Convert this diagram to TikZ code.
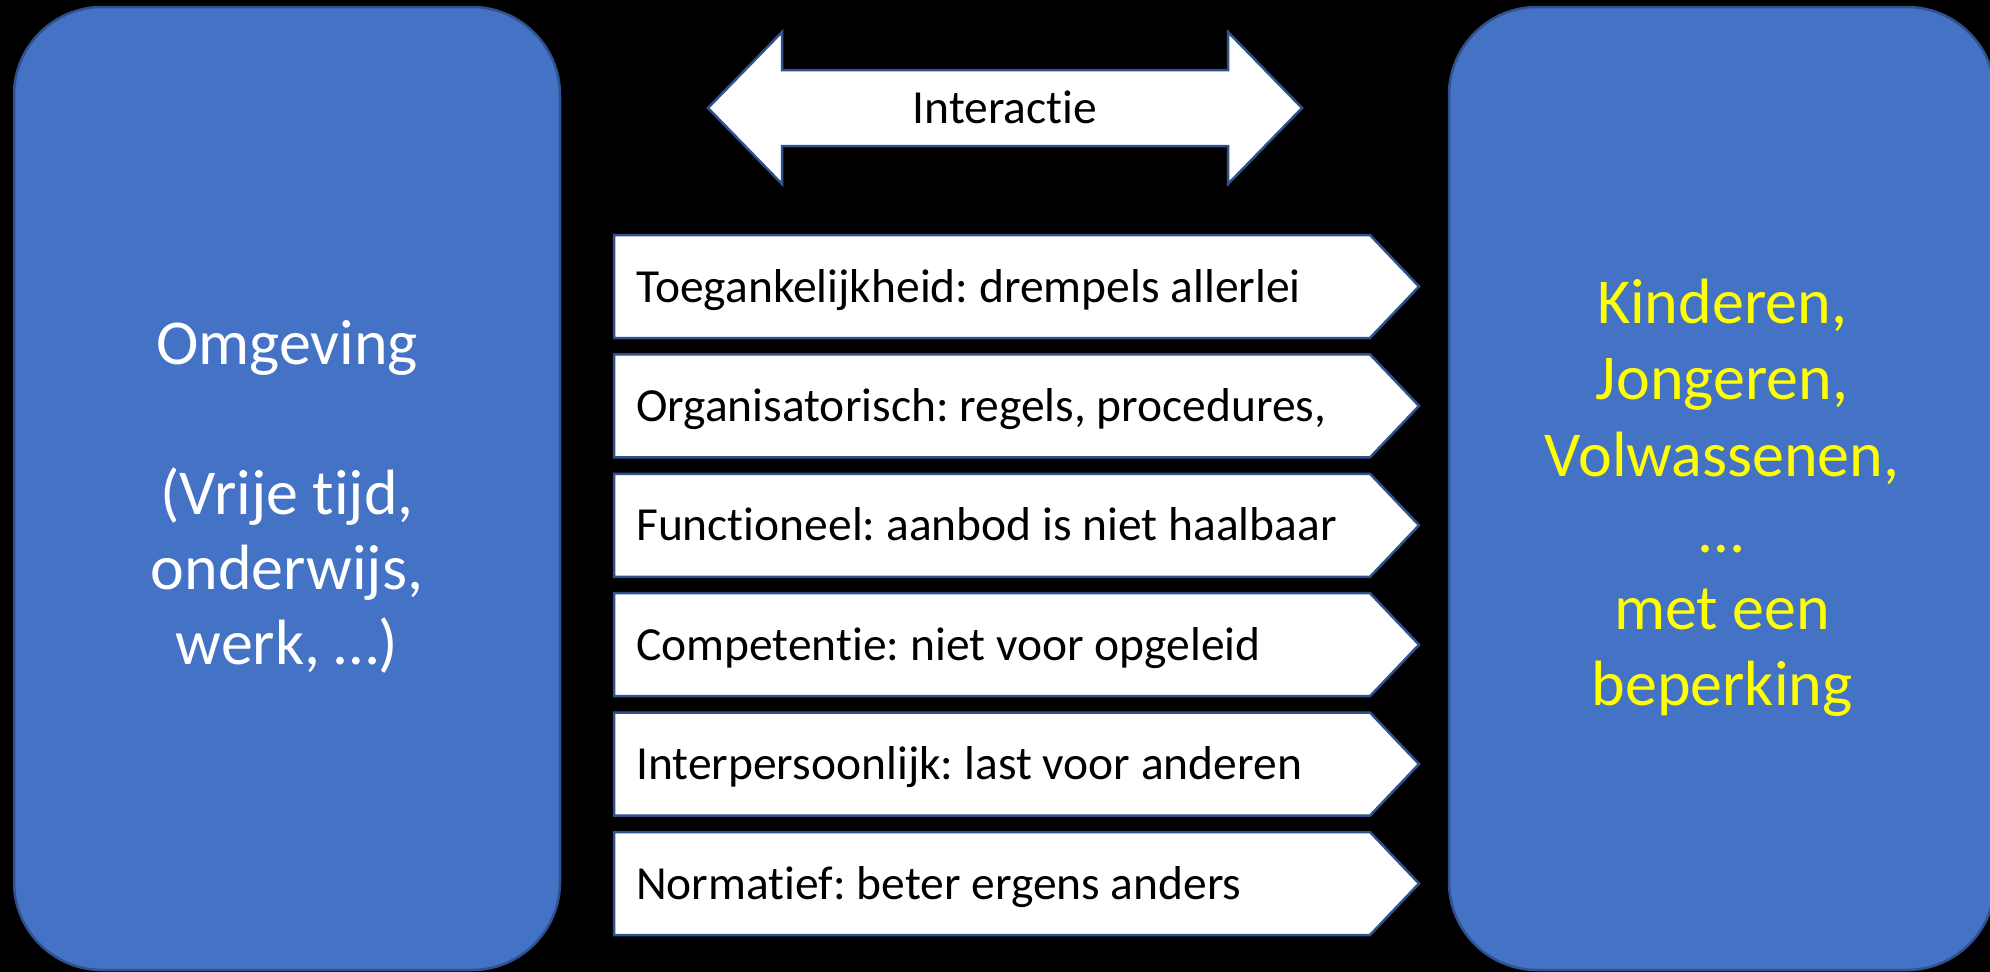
\documentclass[tikz,border=0pt]{standalone}
\usepackage{fontspec}
\setmainfont{Carlito}[Ligatures=NoCommon]
\frenchspacing
\usetikzlibrary{shapes, arrows, positioning}
\definecolor{kaderblauw}{HTML}{4472C4}
\definecolor{randblauw}{HTML}{2F528F}
\definecolor{geel}{HTML}{FFFF00}
\tikzstyle{kader} = [draw=randblauw, fill=kaderblauw, line width=2.5pt, rectangle, rounded corners=88pt, minimum width=546pt, minimum height=963pt, inner sep=0pt]
\tikzstyle{kadertekst} = [align=center, inner sep=0pt, font=\fontsize{64}{75}\selectfont]
\tikzstyle{vorm} = [draw=randblauw, fill=white, line width=2.5pt, line join=miter]
\tikzstyle{drempeltekst} = [anchor=base west, inner sep=0pt, font=\fontsize{47.5}{56}\selectfont]

\begin{document}
\begin{tikzpicture}[x=1pt, y=-1pt]
	\clip (0,0) rectangle (1990,972);
	\fill[black] (0,0) rectangle (1990,972);
	\useasboundingbox (0,0) rectangle (1990,972);
	% de twee kaders
	\node [kader] (omgeving) at (287,488.5) {};
	\node [kader] (doelgroep) at (1722,488.5) {};
	\node [kadertekst, text=white] (omgevingtekst) at (287,497) {Omgeving\\[75pt](Vrije tijd,\\onderwijs,\\werk, …)};
	\node [kadertekst, text=geel, font=\fontsize{64}{76.5}\selectfont] (doelgroeptekst) at (1722,498) {Kinderen,\\Jongeren,\\Volwassenen,\\…\\met een\\beperking};
	% dubbele pijl
	\draw [vorm] (708,108) -- (782,32) -- (782,70) -- (1228,70) -- (1228,32) -- (1302,108)
		-- (1228,184) -- (1228,146) -- (782,146) -- (782,184) -- cycle;
	\node [drempeltekst, anchor=base] (interactie) at (1005,123) {Interactie};
	% drempels
	\foreach \tekst [count=\i from 0] in {Toegankelijkheid: drempels allerlei, {Organisatorisch: regels, procedures,}, Functioneel: aanbod is niet haalbaar, Competentie: niet voor opgeleid, Interpersoonlijk: last voor anderen, Normatief: beter ergens anders} {
		\pgfmathsetmacro\boven{235+119.4*\i}
		\draw [vorm] (614,\boven) -- (1370,\boven) -- (1419,\boven+51.5) -- (1370,\boven+103) -- (614,\boven+103) -- cycle;
		\node [drempeltekst] (drempel\i) at (636,\boven+67) {\tekst};
	}
\end{tikzpicture}
\end{document}
